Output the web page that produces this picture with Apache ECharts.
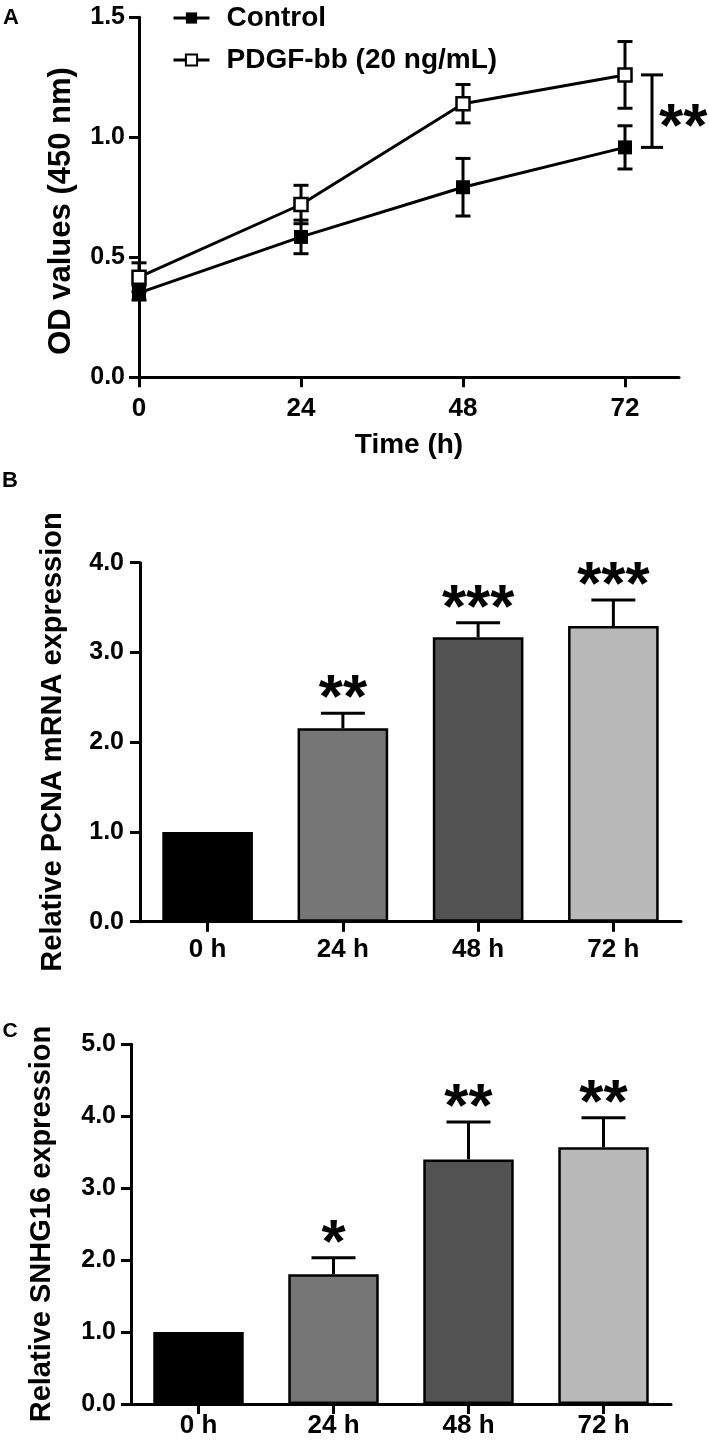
<!DOCTYPE html>
<html><head><meta charset="utf-8">
<script src="https://cdn.jsdelivr.net/npm/echarts@6/dist/echarts.min.js"></script>
<style>html,body{margin:0;padding:0;background:#fff}#c{width:709px;height:1443px}</style>
</head><body><div id="c"></div>
<script>
// ---- Panel A data ----
const timeTicks = [0, 24, 48, 72];
const controlMean = [0.352, 0.585, 0.792, 0.958];
const controlErr  = [0.03, 0.07, 0.12, 0.09];
const pdgfMean    = [0.417, 0.72, 1.14, 1.26];
const pdgfErr     = [0.06, 0.08, 0.08, 0.139];
const sigA = '**';
const seriesNames = ['Control', 'PDGF-bb (20 ng/mL)'];
// ---- Panel B / C data ----
const barCats = ['0 h', '24 h', '48 h', '72 h'];
const pcnaMean = [1.0, 2.156, 3.169, 3.295];
const pcnaErr  = [0, 0.167, 0.162, 0.289];
const pcnaSig  = ['', '**', '***', '***'];
const snhgMean = [1.0, 1.802, 3.40, 3.568];
const snhgErr  = [0, 0.231, 0.52, 0.41];
const snhgSig  = ['', '*', '**', '**'];
const barColors = ['#000000', '#767676', '#525252', '#b9b9b9'];

const FF = "'Liberation Sans', Arial, sans-serif";
const chart = echarts.init(document.getElementById('c'), null, {renderer: 'canvas'});

const axisLine = {show: true, lineStyle: {color: '#000', width: 3}};
const axisTick = {show: true, length: 10, lineStyle: {color: '#000', width: 3}};
const yLabel = (margin) => ({fontSize: 25, fontWeight: 'bold', color: '#000', fontFamily: FF, margin: margin,
  formatter: v => v.toFixed(1)});
const xLabel = (margin) => ({fontSize: 26, fontWeight: 'bold', color: '#000', fontFamily: FF, margin: margin});

function errSeriesA(mean, err) {
  return {
    type: 'custom', xAxisIndex: 0, yAxisIndex: 0, z: 1, silent: true,
    encode: {x: 0, y: 1},
    data: timeTicks.map((t, i) => [t, mean[i], err[i]]),
    renderItem(params, api) {
      const x = api.value(0), m = api.value(1), e = api.value(2);
      const top = api.coord([x, m + e]), bot = api.coord([x, m - e]);
      const hw = 7.5, st = {stroke: '#000', lineWidth: 3};
      return {type: 'group', children: [
        {type: 'line', shape: {x1: top[0], y1: top[1], x2: bot[0], y2: bot[1]}, style: st},
        {type: 'line', shape: {x1: top[0] - hw, y1: top[1], x2: top[0] + hw, y2: top[1]}, style: st},
        {type: 'line', shape: {x1: bot[0] - hw, y1: bot[1], x2: bot[0] + hw, y2: bot[1]}, style: st}
      ]};
    }
  };
}

function barErrSeries(axisIdx, mean, err, sig) {
  return {
    type: 'custom', xAxisIndex: axisIdx, yAxisIndex: axisIdx, z: 3, silent: true,
    encode: {x: 0, y: 1},
    data: mean.map((m, i) => [i, m, err[i]]),
    renderItem(params, api) {
      const i = api.value(0), m = api.value(1), e = api.value(2);
      const top = api.coord([i, m + e]), base = api.coord([i, m]);
      const hw = 22, st = {stroke: '#000', lineWidth: 3};
      const children = [];
      if (e > 0) {
        children.push({type: 'line', shape: {x1: base[0], y1: base[1], x2: top[0], y2: top[1]}, style: st});
        children.push({type: 'line', shape: {x1: top[0] - hw, y1: top[1], x2: top[0] + hw, y2: top[1]}, style: st});
      }
      const s = sig[params.dataIndex];
      if (s) {
        children.push({type: 'text', x: top[0], y: top[1] + 18,
          style: {text: s, fill: '#000', font: 'bold 62px ' + FF, align: 'center', verticalAlign: 'bottom'}});
      }
      return {type: 'group', children};
    }
  };
}

function barSeries(axisIdx, mean) {
  return {
    type: 'bar', xAxisIndex: axisIdx, yAxisIndex: axisIdx, barWidth: '67%', z: 2, silent: true,
    data: mean.map((v, i) => ({value: v, itemStyle: {color: barColors[i]}})),
    itemStyle: {borderColor: '#000', borderWidth: 2.5}
  };
}

const option = {
  animation: false,
  textStyle: {fontFamily: FF},
  grid: [
    {left: 139, top: 17.3, width: 540, height: 360},
    {left: 140, top: 562.7, width: 541, height: 359},
    {left: 131, top: 1044.3, width: 540, height: 359.7}
  ],
  xAxis: [
    {gridIndex: 0, type: 'value', min: 0, max: 80, splitLine: {show: false}, axisLine,
     axisTick: Object.assign({customValues: timeTicks}, axisTick),
     axisLabel: Object.assign(xLabel(19), {customValues: timeTicks})},
    {gridIndex: 1, type: 'category', data: barCats, axisLine,
     axisTick: Object.assign({alignWithLabel: true}, axisTick), axisLabel: xLabel(15)},
    {gridIndex: 2, type: 'category', data: barCats, axisLine,
     axisTick: Object.assign({alignWithLabel: true}, axisTick), axisLabel: xLabel(9)}
  ],
  yAxis: [
    {gridIndex: 0, type: 'value', min: 0, max: 1.5, interval: 0.5, splitLine: {show: false}, axisLine, axisTick, axisLabel: yLabel(14)},
    {gridIndex: 1, type: 'value', min: 0, max: 4, interval: 1, splitLine: {show: false}, axisLine, axisTick, axisLabel: yLabel(16)},
    {gridIndex: 2, type: 'value', min: 0, max: 5, interval: 1, splitLine: {show: false}, axisLine, axisTick, axisLabel: yLabel(15)}
  ],
  legend: {
    orient: 'vertical', left: 167, top: -1, itemGap: 14, itemWidth: 36, itemHeight: 14,
    data: seriesNames,
    lineStyle: {width: 3},
    textStyle: {fontSize: 28, fontWeight: 'bold', color: '#000', fontFamily: FF, padding: [0, 0, 0, 12]}
  },
  series: [
    errSeriesA(controlMean, controlErr),
    errSeriesA(pdgfMean, pdgfErr),
    {name: seriesNames[0], type: 'line', xAxisIndex: 0, yAxisIndex: 0, z: 3,
     data: timeTicks.map((t, i) => [t, controlMean[i]]),
     symbol: 'rect', symbolSize: 14, itemStyle: {color: '#000'}, lineStyle: {color: '#000', width: 3}},
    {name: seriesNames[1], type: 'line', xAxisIndex: 0, yAxisIndex: 0, z: 4,
     data: timeTicks.map((t, i) => [t, pdgfMean[i]]),
     symbol: 'rect', symbolSize: 13, itemStyle: {color: '#fff', borderColor: '#000', borderWidth: 2.5},
     lineStyle: {color: '#000', width: 3}},
    {type: 'custom', xAxisIndex: 0, yAxisIndex: 0, z: 3, silent: true,
     encode: {x: 0, y: [1, 2]},
     data: [[76, pdgfMean[3], controlMean[3]]],
     renderItem(params, api) {
       const x = api.value(0);
       const a = api.coord([x, api.value(1)]), b = api.coord([x, api.value(2)]);
       const hw = 11, st = {stroke: '#000', lineWidth: 3};
       return {type: 'group', children: [
         {type: 'line', shape: {x1: a[0], y1: a[1], x2: b[0], y2: b[1]}, style: st},
         {type: 'line', shape: {x1: a[0] - hw, y1: a[1], x2: a[0] + hw, y2: a[1]}, style: st},
         {type: 'line', shape: {x1: b[0] - hw, y1: b[1], x2: b[0] + hw, y2: b[1]}, style: st},
         {type: 'text', x: a[0] + 7, y: (a[1] + b[1]) / 2 + 18,
          style: {text: sigA, fill: '#000', font: 'bold 62px ' + FF, align: 'left', verticalAlign: 'middle'}}
       ]};
     }},
    barSeries(1, pcnaMean),
    barErrSeries(1, pcnaMean, pcnaErr, pcnaSig),
    barSeries(2, snhgMean),
    barErrSeries(2, snhgMean, snhgErr, snhgSig)
  ],
  graphic: [
    {type: 'text', x: 11, y: 18.4, style: {text: 'A', font: 'bold 22px ' + FF, fill: '#000', align: 'center', verticalAlign: 'middle'}},
    {type: 'text', x: 10, y: 481, style: {text: 'B', font: 'bold 22px ' + FF, fill: '#000', align: 'center', verticalAlign: 'middle'}},
    {type: 'text', x: 10, y: 1031.5, style: {text: 'C', font: 'bold 21px ' + FF, fill: '#000', align: 'center', verticalAlign: 'middle'}},
    {type: 'text', x: 61, y: 211, rotation: Math.PI / 2, style: {text: 'OD values (450 nm)', font: 'bold 31px ' + FF, fill: '#000', align: 'center', verticalAlign: 'middle'}},
    {type: 'text', x: 409, y: 445, style: {text: 'Time (h)', font: 'bold 28px ' + FF, fill: '#000', align: 'center', verticalAlign: 'middle'}},
    {type: 'text', x: 53, y: 742, rotation: Math.PI / 2, style: {text: 'Relative PCNA mRNA expression', font: 'bold 29px ' + FF, fill: '#000', align: 'center', verticalAlign: 'middle'}},
    {type: 'text', x: 42, y: 1224, rotation: Math.PI / 2, style: {text: 'Relative SNHG16 expression', font: 'bold 29px ' + FF, fill: '#000', align: 'center', verticalAlign: 'middle'}}
  ]
};
chart.setOption(option);
</script></body></html>
